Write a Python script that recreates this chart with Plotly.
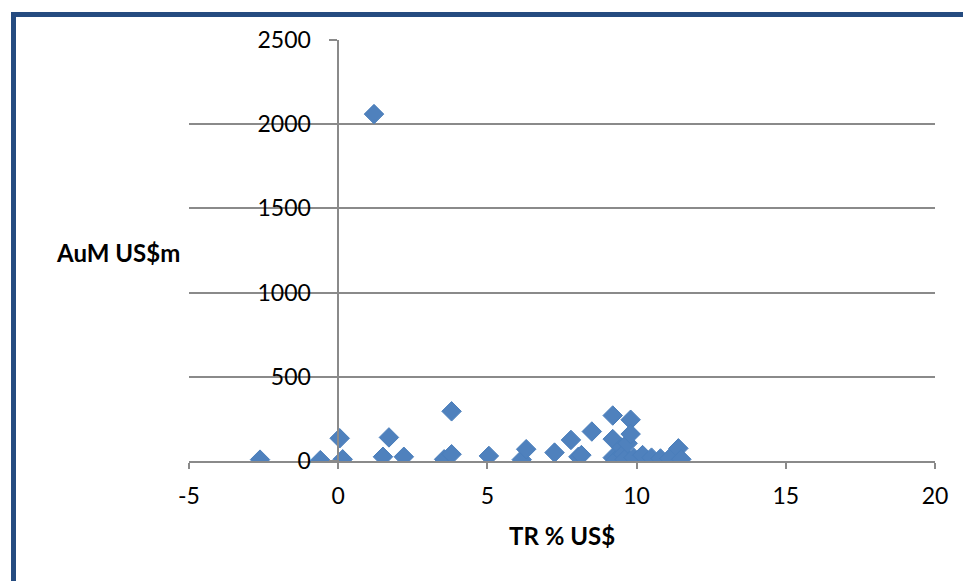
import plotly.graph_objects as go

# Total return (% in US$) versus assets under management (US$m)
tr_pct = [-2.62, -0.6, 0.05, 0.15, 1.2, 1.5, 1.7, 2.2, 3.55, 3.8, 3.8, 5.05,
          6.15, 6.3, 7.25, 7.8, 8.05, 8.15, 8.5, 9.2, 9.2, 9.2, 9.3, 9.5,
          9.55, 9.6, 9.7, 9.8, 9.8, 9.9, 10.2, 10.5, 10.8, 11.1, 11.4, 11.5]
aum_usdm = [8, 5, 135, 10, 2060, 25, 140, 25, 10, 295, 40, 30,
            8, 70, 50, 125, 25, 35, 175, 270, 130, 20, 5, 80,
            40, 10, 105, 245, 160, 20, 35, 20, 15, 15, 75, 10]

x_ticks = [-5, 0, 5, 10, 15, 20]
y_ticks = [0, 500, 1000, 1500, 2000, 2500]

W, H = 963, 581
L, R, T, B = 189, 28, 40, 120
pw, ph = W - L - R, H - T - B


def px_x(v):
    return (v - L) / pw


def px_y(v):
    return (H - B - v) / ph


font_family = "Lato, 'Open Sans', sans-serif"
grid_col = "#8a8a8a"

fig = go.Figure(
    go.Scatter(
        x=tr_pct, y=aum_usdm, mode="markers",
        marker=dict(symbol="diamond", size=15, color="#4F81BD",
                    line=dict(color="#4A7EBB", width=1)),
        hoverinfo="x+y",
    )
)

fig.update_layout(
    width=W, height=H,
    margin=dict(l=L, r=R, t=T, b=B, pad=0),
    paper_bgcolor="white", plot_bgcolor="white",
    showlegend=False,
    font=dict(family=font_family, size=23, color="#000000"),
    xaxis=dict(
        range=[-5, 20], tickvals=x_ticks, ticktext=[str(v) for v in x_ticks],
        showgrid=False, zeroline=False,
        showline=True, linecolor=grid_col, linewidth=1.5,
        ticks="outside", ticklen=6, tickcolor=grid_col, tickwidth=1.5,
        ticklabelstandoff=8,
        tickfont=dict(size=23),
    ),
    yaxis=dict(
        range=[0, 2500], tickvals=y_ticks, ticktext=[str(v) for v in y_ticks],
        anchor="free", position=0.2,
        showgrid=True, gridcolor=grid_col, gridwidth=1.5,
        zeroline=False,
        showline=True, linecolor=grid_col, linewidth=1.5,
        ticks="outside", ticklen=8, tickcolor=grid_col, tickwidth=1.5,
        ticklabelstandoff=14,
        tickfont=dict(size=23),
    ),
    annotations=[
        dict(text="<b>AuM US$m</b>", xref="paper", yref="paper",
             x=px_x(118), y=px_y(252), xanchor="center", yanchor="middle",
             showarrow=False, font=dict(size=24, family=font_family)),
        dict(text="<b>TR % US$</b>", xref="paper", yref="paper",
             x=px_x(562), y=px_y(535), xanchor="center", yanchor="middle",
             showarrow=False, font=dict(size=24, family=font_family)),
    ],
    shapes=[
        # dark blue chart frame
        dict(type="rect", xref="paper", yref="paper",
             x0=px_x(13.5), x1=px_x(990), y0=px_y(14.5), y1=px_y(620),
             line=dict(color="#254B80", width=5), fillcolor="rgba(0,0,0,0)",
             layer="above"),
    ],
)

fig.write_html("out.html")
